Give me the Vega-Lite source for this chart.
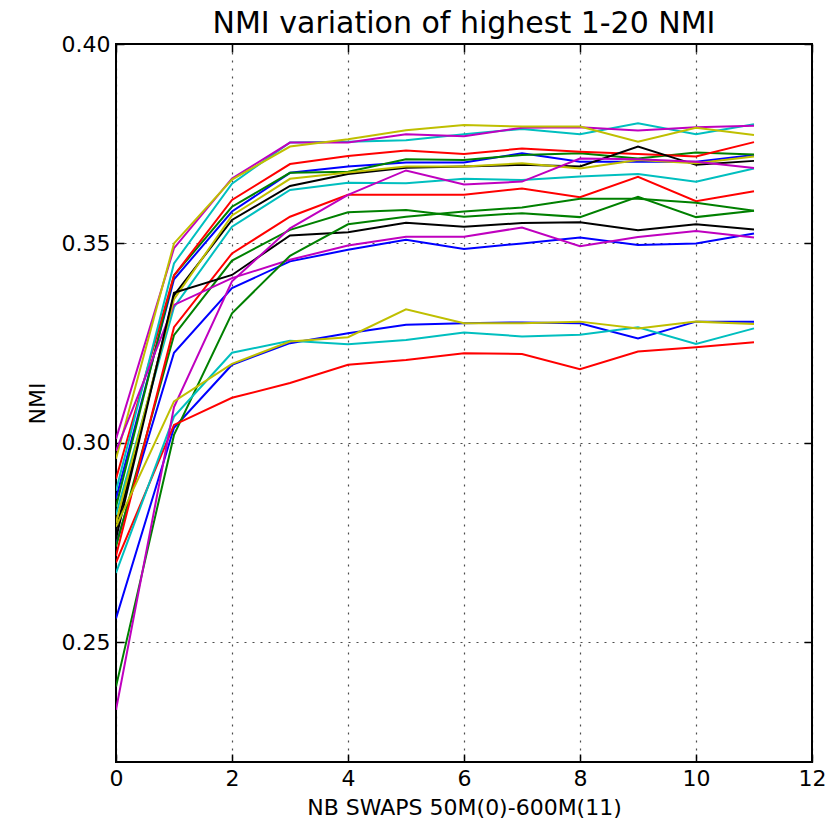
{
 "$schema": "https://vega.github.io/schema/vega-lite/v6.json",
 "width": 696, "height": 718,
 "autosize": {"type": "none"},
 "padding": {"left": 116, "top": 44, "right": 28, "bottom": 67},
 "background": "white",
 "title": {"text": "NMI variation of highest 1-20 NMI", "fontSize": 30, "font": "DejaVu Sans", "fontWeight": "normal", "offset": -6, "color": "black"},
 "config": {
  "view": {"stroke": "black", "strokeWidth": 2},
  "axis": {"labelFont": "DejaVu Sans", "titleFont": "DejaVu Sans", "labelFontSize": 22, "titleFontSize": 22, "titleFontWeight": "normal", "labelColor": "black", "titleColor": "black", "domain": false, "tickColor": "black", "tickWidth": 1.5, "tickSize": -8, "labelPadding": 16, "gridColor": "black", "gridOpacity": 0.7, "gridDash": [2, 6], "gridWidth": 1.2, "labelFlush": false, "labelOverlap": false}
 },
 "data": {"values": [
  {"run":"1","x":0,"nmi":0.286},{"run":"1","x":1,"nmi":0.341},{"run":"1","x":2,"nmi":0.358},{"run":"1","x":3,"nmi":0.3677},{"run":"1","x":4,"nmi":0.3693},{"run":"1","x":5,"nmi":0.3703},{"run":"1","x":6,"nmi":0.3703},{"run":"1","x":7,"nmi":0.3726},{"run":"1","x":8,"nmi":0.3705},{"run":"1","x":9,"nmi":0.3705},{"run":"1","x":10,"nmi":0.3705},{"run":"1","x":11,"nmi":0.3722},
  {"run":"2","x":0,"nmi":0.284},{"run":"2","x":1,"nmi":0.342},{"run":"2","x":2,"nmi":0.3592},{"run":"2","x":3,"nmi":0.3677},{"run":"2","x":4,"nmi":0.368},{"run":"2","x":5,"nmi":0.3711},{"run":"2","x":6,"nmi":0.3709},{"run":"2","x":7,"nmi":0.3722},{"run":"2","x":8,"nmi":0.3726},{"run":"2","x":9,"nmi":0.3713},{"run":"2","x":10,"nmi":0.3728},{"run":"2","x":11,"nmi":0.3723},
  {"run":"3","x":0,"nmi":0.291},{"run":"3","x":1,"nmi":0.342},{"run":"3","x":2,"nmi":0.3609},{"run":"3","x":3,"nmi":0.3699},{"run":"3","x":4,"nmi":0.3719},{"run":"3","x":5,"nmi":0.3733},{"run":"3","x":6,"nmi":0.3724},{"run":"3","x":7,"nmi":0.3738},{"run":"3","x":8,"nmi":0.373},{"run":"3","x":9,"nmi":0.3724},{"run":"3","x":10,"nmi":0.3718},{"run":"3","x":11,"nmi":0.3754},
  {"run":"4","x":0,"nmi":0.288},{"run":"4","x":1,"nmi":0.345},{"run":"4","x":2,"nmi":0.365},{"run":"4","x":3,"nmi":0.3753},{"run":"4","x":4,"nmi":0.3755},{"run":"4","x":5,"nmi":0.3759},{"run":"4","x":6,"nmi":0.3774},{"run":"4","x":7,"nmi":0.3787},{"run":"4","x":8,"nmi":0.3774},{"run":"4","x":9,"nmi":0.3801},{"run":"4","x":10,"nmi":0.3774},{"run":"4","x":11,"nmi":0.3799},
  {"run":"5","x":0,"nmi":0.301},{"run":"5","x":1,"nmi":0.3488},{"run":"5","x":2,"nmi":0.3663},{"run":"5","x":3,"nmi":0.3753},{"run":"5","x":4,"nmi":0.3753},{"run":"5","x":5,"nmi":0.3774},{"run":"5","x":6,"nmi":0.3769},{"run":"5","x":7,"nmi":0.379},{"run":"5","x":8,"nmi":0.3791},{"run":"5","x":9,"nmi":0.3783},{"run":"5","x":10,"nmi":0.3791},{"run":"5","x":11,"nmi":0.3795},
  {"run":"6","x":0,"nmi":0.296},{"run":"6","x":1,"nmi":0.35},{"run":"6","x":2,"nmi":0.366},{"run":"6","x":3,"nmi":0.3743},{"run":"6","x":4,"nmi":0.3761},{"run":"6","x":5,"nmi":0.3784},{"run":"6","x":6,"nmi":0.3797},{"run":"6","x":7,"nmi":0.3793},{"run":"6","x":8,"nmi":0.3793},{"run":"6","x":9,"nmi":0.3755},{"run":"6","x":10,"nmi":0.379},{"run":"6","x":11,"nmi":0.3772},
  {"run":"7","x":0,"nmi":0.278},{"run":"7","x":1,"nmi":0.337},{"run":"7","x":2,"nmi":0.3559},{"run":"7","x":3,"nmi":0.3644},{"run":"7","x":4,"nmi":0.3674},{"run":"7","x":5,"nmi":0.369},{"run":"7","x":6,"nmi":0.3693},{"run":"7","x":7,"nmi":0.3697},{"run":"7","x":8,"nmi":0.3693},{"run":"7","x":9,"nmi":0.3743},{"run":"7","x":10,"nmi":0.3697},{"run":"7","x":11,"nmi":0.3707},
  {"run":"8","x":0,"nmi":0.2745},{"run":"8","x":1,"nmi":0.3226},{"run":"8","x":2,"nmi":0.3388},{"run":"8","x":3,"nmi":0.3455},{"run":"8","x":4,"nmi":0.3484},{"run":"8","x":5,"nmi":0.3509},{"run":"8","x":6,"nmi":0.3486},{"run":"8","x":7,"nmi":0.35},{"run":"8","x":8,"nmi":0.3515},{"run":"8","x":9,"nmi":0.3496},{"run":"8","x":10,"nmi":0.35},{"run":"8","x":11,"nmi":0.3525},
  {"run":"9","x":0,"nmi":0.274},{"run":"9","x":1,"nmi":0.327},{"run":"9","x":2,"nmi":0.3457},{"run":"9","x":3,"nmi":0.3534},{"run":"9","x":4,"nmi":0.3578},{"run":"9","x":5,"nmi":0.3584},{"run":"9","x":6,"nmi":0.3567},{"run":"9","x":7,"nmi":0.3576},{"run":"9","x":8,"nmi":0.3566},{"run":"9","x":9,"nmi":0.3617},{"run":"9","x":10,"nmi":0.3566},{"run":"9","x":11,"nmi":0.3582},
  {"run":"10","x":0,"nmi":0.2717},{"run":"10","x":1,"nmi":0.329},{"run":"10","x":2,"nmi":0.3475},{"run":"10","x":3,"nmi":0.3567},{"run":"10","x":4,"nmi":0.3622},{"run":"10","x":5,"nmi":0.3622},{"run":"10","x":6,"nmi":0.3622},{"run":"10","x":7,"nmi":0.3638},{"run":"10","x":8,"nmi":0.3616},{"run":"10","x":9,"nmi":0.3667},{"run":"10","x":10,"nmi":0.3606},{"run":"10","x":11,"nmi":0.3631},
  {"run":"11","x":0,"nmi":0.282},{"run":"11","x":1,"nmi":0.334},{"run":"11","x":2,"nmi":0.3542},{"run":"11","x":3,"nmi":0.3634},{"run":"11","x":4,"nmi":0.3652},{"run":"11","x":5,"nmi":0.3651},{"run":"11","x":6,"nmi":0.3662},{"run":"11","x":7,"nmi":0.3659},{"run":"11","x":8,"nmi":0.3668},{"run":"11","x":9,"nmi":0.3674},{"run":"11","x":10,"nmi":0.3655},{"run":"11","x":11,"nmi":0.3688},
  {"run":"12","x":0,"nmi":0.298},{"run":"12","x":1,"nmi":0.3346},{"run":"12","x":2,"nmi":0.3413},{"run":"12","x":3,"nmi":0.3459},{"run":"12","x":4,"nmi":0.3495},{"run":"12","x":5,"nmi":0.3517},{"run":"12","x":6,"nmi":0.3517},{"run":"12","x":7,"nmi":0.354},{"run":"12","x":8,"nmi":0.3493},{"run":"12","x":9,"nmi":0.3516},{"run":"12","x":10,"nmi":0.3531},{"run":"12","x":11,"nmi":0.3515},
  {"run":"13","x":0,"nmi":0.28},{"run":"13","x":1,"nmi":0.336},{"run":"13","x":2,"nmi":0.357},{"run":"13","x":3,"nmi":0.3662},{"run":"13","x":4,"nmi":0.3678},{"run":"13","x":5,"nmi":0.3693},{"run":"13","x":6,"nmi":0.3693},{"run":"13","x":7,"nmi":0.3701},{"run":"13","x":8,"nmi":0.3688},{"run":"13","x":9,"nmi":0.3709},{"run":"13","x":10,"nmi":0.3701},{"run":"13","x":11,"nmi":0.3718},
  {"run":"14","x":0,"nmi":0.276},{"run":"14","x":1,"nmi":0.3376},{"run":"14","x":2,"nmi":0.3421},{"run":"14","x":3,"nmi":0.352},{"run":"14","x":4,"nmi":0.3528},{"run":"14","x":5,"nmi":0.3552},{"run":"14","x":6,"nmi":0.3542},{"run":"14","x":7,"nmi":0.3551},{"run":"14","x":8,"nmi":0.3553},{"run":"14","x":9,"nmi":0.3533},{"run":"14","x":10,"nmi":0.3548},{"run":"14","x":11,"nmi":0.3535},
  {"run":"15","x":0,"nmi":0.256},{"run":"15","x":1,"nmi":0.3038},{"run":"15","x":2,"nmi":0.3196},{"run":"15","x":3,"nmi":0.325},{"run":"15","x":4,"nmi":0.3275},{"run":"15","x":5,"nmi":0.3296},{"run":"15","x":6,"nmi":0.33},{"run":"15","x":7,"nmi":0.3302},{"run":"15","x":8,"nmi":0.33},{"run":"15","x":9,"nmi":0.3262},{"run":"15","x":10,"nmi":0.3304},{"run":"15","x":11,"nmi":0.3304},
  {"run":"16","x":0,"nmi":0.2389},{"run":"16","x":1,"nmi":0.302},{"run":"16","x":2,"nmi":0.3325},{"run":"16","x":3,"nmi":0.3469},{"run":"16","x":4,"nmi":0.3548},{"run":"16","x":5,"nmi":0.3567},{"run":"16","x":6,"nmi":0.358},{"run":"16","x":7,"nmi":0.359},{"run":"16","x":8,"nmi":0.3612},{"run":"16","x":9,"nmi":0.3612},{"run":"16","x":10,"nmi":0.3602},{"run":"16","x":11,"nmi":0.3582},
  {"run":"17","x":0,"nmi":0.27},{"run":"17","x":1,"nmi":0.3045},{"run":"17","x":2,"nmi":0.3113},{"run":"17","x":3,"nmi":0.315},{"run":"17","x":4,"nmi":0.3196},{"run":"17","x":5,"nmi":0.3208},{"run":"17","x":6,"nmi":0.3225},{"run":"17","x":7,"nmi":0.3223},{"run":"17","x":8,"nmi":0.3185},{"run":"17","x":9,"nmi":0.3229},{"run":"17","x":10,"nmi":0.324},{"run":"17","x":11,"nmi":0.3252},
  {"run":"18","x":0,"nmi":0.2674},{"run":"18","x":1,"nmi":0.3066},{"run":"18","x":2,"nmi":0.3226},{"run":"18","x":3,"nmi":0.3256},{"run":"18","x":4,"nmi":0.3247},{"run":"18","x":5,"nmi":0.3258},{"run":"18","x":6,"nmi":0.3277},{"run":"18","x":7,"nmi":0.3267},{"run":"18","x":8,"nmi":0.3271},{"run":"18","x":9,"nmi":0.329},{"run":"18","x":10,"nmi":0.3248},{"run":"18","x":11,"nmi":0.3287},
  {"run":"19","x":0,"nmi":0.2331},{"run":"19","x":1,"nmi":0.309},{"run":"19","x":2,"nmi":0.3405},{"run":"19","x":3,"nmi":0.3538},{"run":"19","x":4,"nmi":0.3622},{"run":"19","x":5,"nmi":0.3683},{"run":"19","x":6,"nmi":0.3648},{"run":"19","x":7,"nmi":0.3655},{"run":"19","x":8,"nmi":0.3713},{"run":"19","x":9,"nmi":0.3711},{"run":"19","x":10,"nmi":0.3705},{"run":"19","x":11,"nmi":0.3689},
  {"run":"20","x":0,"nmi":0.279},{"run":"20","x":1,"nmi":0.3104},{"run":"20","x":2,"nmi":0.3198},{"run":"20","x":3,"nmi":0.3254},{"run":"20","x":4,"nmi":0.3265},{"run":"20","x":5,"nmi":0.3335},{"run":"20","x":6,"nmi":0.33},{"run":"20","x":7,"nmi":0.33},{"run":"20","x":8,"nmi":0.3304},{"run":"20","x":9,"nmi":0.3287},{"run":"20","x":10,"nmi":0.3304},{"run":"20","x":11,"nmi":0.3298}
 ]},
 "layer": [
  {
   "mark": {"type": "line", "strokeWidth": 2, "clip": true},
   "encoding": {
    "x": {"field": "x", "type": "quantitative", "scale": {"domain": [0, 12], "nice": false}, "axis": {"values": [0, 2, 4, 6, 8, 10, 12], "title": "NB SWAPS 50M(0)-600M(11)", "grid": true, "labelPadding": 14, "titlePadding": 8}},
    "y": {"field": "nmi", "type": "quantitative", "scale": {"domain": [0.22, 0.40], "nice": false, "zero": false}, "axis": {"values": [0.25, 0.30, 0.35, 0.40], "format": ".2f", "title": "NMI", "grid": true, "labelPadding": 14, "titlePadding": 12}},
    "color": {"field": "run", "type": "nominal", "legend": null, "scale": {"domain": ["1","2","3","4","5","6","7","8","9","10","11","12","13","14","15","16","17","18","19","20"], "range": ["#0000ff","#008000","#ff0000","#00bfbf","#bf00bf","#bfbf00","#000000","#0000ff","#008000","#ff0000","#00bfbf","#bf00bf","#bfbf00","#000000","#0000ff","#008000","#ff0000","#00bfbf","#bf00bf","#bfbf00"]}}
   }
  },
  {
   "mark": {"type": "point", "opacity": 0},
   "encoding": {
    "x": {"field": "x", "type": "quantitative", "axis": {"orient": "top", "values": [0, 2, 4, 6, 8, 10, 12], "labels": false, "title": null, "grid": false}},
    "y": {"field": "nmi", "type": "quantitative", "axis": {"orient": "right", "values": [0.25, 0.30, 0.35, 0.40], "labels": false, "title": null, "grid": false}}
   }
  }
 ],
 "resolve": {"axis": {"x": "independent", "y": "independent"}}
}
